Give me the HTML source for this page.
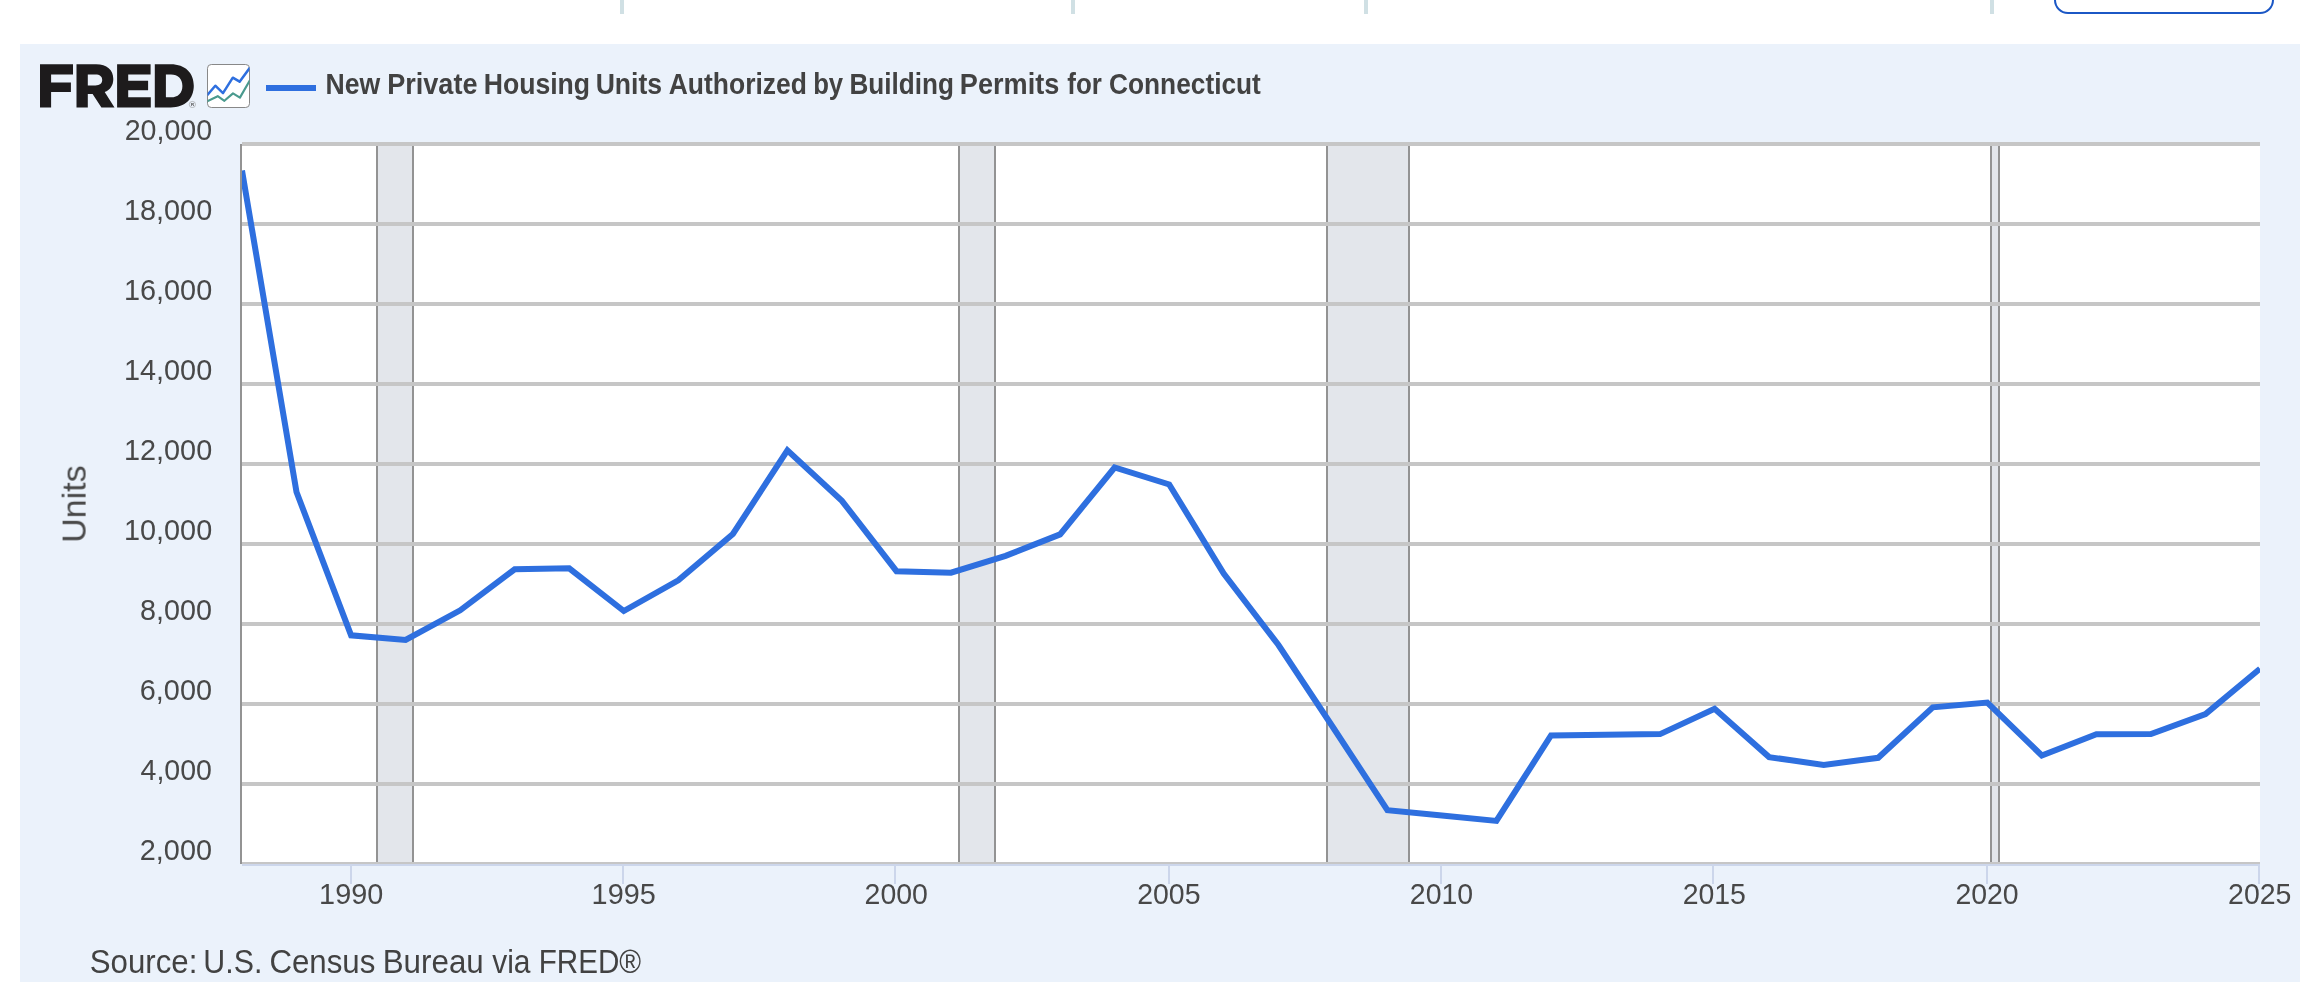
<!DOCTYPE html>
<html lang="en"><head><meta charset="utf-8"><title>FRED - New Private Housing Units Authorized by Building Permits for Connecticut</title>
<style>
html,body{margin:0;padding:0;background:#fff;}
body{width:2306px;height:982px;overflow:hidden;font-family:"Liberation Sans",sans-serif;}
svg{display:block;position:absolute;left:0;top:0;}
text{font-family:"Liberation Sans",sans-serif;fill:#424242;}
.tg{opacity:0.999;}
.os{fill:#484848;}
.r{shape-rendering:crispEdges;}
</style></head><body>
<svg width="2306" height="982" viewBox="0 0 2306 982">
<rect width="2306" height="982" fill="#ffffff"/>

<g class="r" fill="#d0e0e4">
<rect x="620" y="0" width="4" height="14"/>
<rect x="1071" y="0" width="4" height="14"/>
<rect x="1364" y="0" width="4" height="14"/>
<rect x="1990" y="0" width="4" height="14"/>
</g>
<rect x="2055" y="-47" width="218" height="60" rx="13" ry="13" fill="#ffffff" stroke="#1b57c5" stroke-width="2"/>
<rect class="r" x="20" y="44" width="2280" height="938" fill="#ebf2fb"/>
<rect class="r" x="242" y="144" width="2018" height="720" fill="#ffffff"/>
<g class="r"><rect x="376" y="144" width="38" height="720" fill="#939393"/><rect x="378" y="144" width="34" height="720" fill="#e3e6eb"/></g>
<g class="r"><rect x="958" y="144" width="38" height="720" fill="#939393"/><rect x="960" y="144" width="34" height="720" fill="#e3e6eb"/></g>
<g class="r"><rect x="1326" y="144" width="84" height="720" fill="#939393"/><rect x="1328" y="144" width="80" height="720" fill="#e3e6eb"/></g>
<g class="r"><rect x="1990" y="144" width="10" height="720" fill="#939393"/><rect x="1992" y="144" width="6" height="720" fill="#e3e6eb"/></g>
<g class="r" fill="#c6c6c6">
<rect x="242" y="142" width="2018" height="4"/>
<rect x="242" y="222" width="2018" height="4"/>
<rect x="242" y="302" width="2018" height="4"/>
<rect x="242" y="382" width="2018" height="4"/>
<rect x="242" y="462" width="2018" height="4"/>
<rect x="242" y="542" width="2018" height="4"/>
<rect x="242" y="622" width="2018" height="4"/>
<rect x="242" y="702" width="2018" height="4"/>
<rect x="242" y="782" width="2018" height="4"/>
<rect x="242" y="862" width="2018" height="4"/>
</g>
<rect class="r" x="242" y="864" width="2018" height="2" fill="#ccd6eb"/>
<rect class="r" x="240" y="144" width="2" height="720" fill="#939393"/>
<g class="r" fill="#ccd6eb">
<rect x="350" y="866" width="2" height="18"/>
<rect x="622" y="866" width="2" height="18"/>
<rect x="894" y="866" width="2" height="18"/>
<rect x="1168" y="866" width="2" height="18"/>
<rect x="1440" y="866" width="2" height="18"/>
<rect x="1712" y="866" width="2" height="18"/>
<rect x="1986" y="866" width="2" height="18"/>
<rect x="2258" y="866" width="2" height="18"/>
</g>
<clipPath id="pc"><rect x="242" y="124" width="2018" height="740"/></clipPath>
<polyline clip-path="url(#pc)" points="242.0,170.5 296.5,492.0 351.1,635.3 405.6,639.9 460.2,610.3 514.7,569.3 569.2,568.3 623.8,611.0 678.3,580.4 732.9,534.0 787.4,450.4 841.9,500.8 896.5,571.2 951.0,572.7 1005.6,555.9 1060.1,534.4 1114.6,467.5 1169.2,484.5 1223.7,573.5 1278.3,644.8 1332.8,727.0 1387.4,810.2 1441.9,815.6 1496.4,820.9 1551.0,735.5 1605.5,734.8 1660.1,734.1 1714.6,708.8 1769.1,757.1 1823.7,764.9 1878.2,757.8 1932.8,707.3 1987.3,702.6 2041.8,755.5 2096.4,734.3 2150.9,734.0 2205.5,714.1 2260.0,668.7" fill="none" stroke="#2e6fdf" stroke-width="6" stroke-linejoin="miter" stroke-linecap="butt"/>
<rect class="r" x="266" y="85" width="50" height="6" fill="#2e6fdf"/>
<g class="tg">
<text x="325.4" y="94" font-size="28.6" font-weight="bold" textLength="54.77" lengthAdjust="spacingAndGlyphs">New</text>
<text x="387.17" y="94" font-size="28.6" font-weight="bold" textLength="90.3" lengthAdjust="spacingAndGlyphs">Private</text>
<text x="483.7" y="94" font-size="28.6" font-weight="bold" textLength="106.39" lengthAdjust="spacingAndGlyphs">Housing</text>
<text x="595.64" y="94" font-size="28.6" font-weight="bold" textLength="66.45" lengthAdjust="spacingAndGlyphs">Units</text>
<text x="668.69" y="94" font-size="28.6" font-weight="bold" textLength="138.26" lengthAdjust="spacingAndGlyphs">Authorized</text>
<text x="813.2" y="94" font-size="28.6" font-weight="bold" textLength="29.97" lengthAdjust="spacingAndGlyphs">by</text>
<text x="849.43" y="94" font-size="28.6" font-weight="bold" textLength="104.51" lengthAdjust="spacingAndGlyphs">Building</text>
<text x="959.86" y="94" font-size="28.6" font-weight="bold" textLength="99.42" lengthAdjust="spacingAndGlyphs">Permits</text>
<text x="1067.34" y="94" font-size="28.6" font-weight="bold" textLength="34.56" lengthAdjust="spacingAndGlyphs">for</text>
<text x="1109.03" y="94" font-size="28.6" font-weight="bold" textLength="151.84" lengthAdjust="spacingAndGlyphs">Connecticut</text>
<text x="89.74" y="972.6" font-size="32.4" textLength="107.62" lengthAdjust="spacingAndGlyphs">Source:</text>
<text x="203.33" y="972.6" font-size="32.4" textLength="59.0" lengthAdjust="spacingAndGlyphs">U.S.</text>
<text x="269.39" y="972.6" font-size="32.4" textLength="105.93" lengthAdjust="spacingAndGlyphs">Census</text>
<text x="382.71" y="972.6" font-size="32.4" textLength="101.03" lengthAdjust="spacingAndGlyphs">Bureau</text>
<text x="492.17" y="972.6" font-size="32.4" textLength="38.35" lengthAdjust="spacingAndGlyphs">via</text>
<text x="538.75" y="972.6" font-size="32.4" textLength="102.45" lengthAdjust="spacingAndGlyphs">FRED®</text>
<text x="124.72" y="140" font-size="29.5" class="os" textLength="87.46" lengthAdjust="spacingAndGlyphs">20,000</text>
<text x="123.96" y="220" font-size="29.5" class="os" textLength="88.23" lengthAdjust="spacingAndGlyphs">18,000</text>
<text x="123.96" y="300" font-size="29.5" class="os" textLength="88.23" lengthAdjust="spacingAndGlyphs">16,000</text>
<text x="123.96" y="380" font-size="29.5" class="os" textLength="88.23" lengthAdjust="spacingAndGlyphs">14,000</text>
<text x="123.96" y="460" font-size="29.5" class="os" textLength="88.23" lengthAdjust="spacingAndGlyphs">12,000</text>
<text x="123.96" y="540" font-size="29.5" class="os" textLength="88.23" lengthAdjust="spacingAndGlyphs">10,000</text>
<text x="140.06" y="620" font-size="29.5" class="os" textLength="71.9" lengthAdjust="spacingAndGlyphs">8,000</text>
<text x="139.81" y="700" font-size="29.5" class="os" textLength="72.16" lengthAdjust="spacingAndGlyphs">6,000</text>
<text x="140.56" y="780" font-size="29.5" class="os" textLength="71.39" lengthAdjust="spacingAndGlyphs">4,000</text>
<text x="139.81" y="860" font-size="29.5" class="os" textLength="72.16" lengthAdjust="spacingAndGlyphs">2,000</text>
<text x="319.11" y="904" font-size="29.5" class="os" textLength="64.09" lengthAdjust="spacingAndGlyphs">1990</text>
<text x="591.61" y="904" font-size="29.5" class="os" textLength="64.09" lengthAdjust="spacingAndGlyphs">1995</text>
<text x="864.58" y="904" font-size="29.5" class="os" textLength="63.31" lengthAdjust="spacingAndGlyphs">2000</text>
<text x="1137.23" y="904" font-size="29.5" class="os" textLength="63.31" lengthAdjust="spacingAndGlyphs">2005</text>
<text x="1409.83" y="904" font-size="29.5" class="os" textLength="63.31" lengthAdjust="spacingAndGlyphs">2010</text>
<text x="1682.63" y="904" font-size="29.5" class="os" textLength="63.31" lengthAdjust="spacingAndGlyphs">2015</text>
<text x="1955.38" y="904" font-size="29.5" class="os" textLength="63.31" lengthAdjust="spacingAndGlyphs">2020</text>
<text x="2228.08" y="904" font-size="29.5" class="os" textLength="63.31" lengthAdjust="spacingAndGlyphs">2025</text>
<text transform="translate(85.6,542.8) rotate(-90)" x="0" y="0" font-size="34" class="os" textLength="77.4" lengthAdjust="spacingAndGlyphs">Units</text>
</g>
<g fill="#1d1b1c" fill-rule="evenodd">
<path d="M40,64.2H73V74.5H51.1V82.6H70.9V91.9H51.1V107.5H40Z"/>
<path d="M76.5,64.2H96.2C106.8,64.2 113.3,69.8 113.3,78.9C113.3,85.3 110.2,89.7 104.7,92.1L114.5,107.5H101.4L92.6,94H87.8V107.5H76.5ZM87.8,74.5V85.4H95.4C99.8,85.4 102.2,83.4 102.2,80C102.2,76.4 99.8,74.5 95.4,74.5Z"/>
<path d="M117.1,64.2H150.6V74.5H128.2V80.8H148.1V90.2H128.2V97.2H150.8V107.5H117.1Z"/>
<path d="M154.8,64.2H170.8C185.2,64.2 193.8,72.9 193.8,85.8C193.8,98.6 185.2,107.5 170.8,107.5H154.8ZM165.9,74.5V97.3H171C178,97.3 182.4,92.9 182.4,85.9C182.4,78.9 178,74.5 171,74.5Z"/>
</g>
<circle cx="192.4" cy="104.5" r="3.1" fill="none" stroke="#7a7a7a" stroke-width="0.45"/>
<text x="191" y="106.1" font-size="4.2" font-weight="bold" style="fill:#444">R</text>
<clipPath id="ic"><rect x="207.5" y="64.5" width="42" height="43" rx="3.5"/></clipPath>
<rect x="207.5" y="64.5" width="42" height="43" rx="3.8" ry="3.8" fill="#ffffff" stroke="#888888" stroke-width="1"/>
<g clip-path="url(#ic)" fill="none" stroke-linejoin="round">
<polyline points="207.2,95.1 215.3,85.7 223,93.1 232.8,77.7 239.6,81.7 250,67.6" stroke="#2e6fdf" stroke-width="2.5"/>
<polyline points="207.2,101.4 217.7,96.2 224.4,100.8 233,93.4 239.9,97.6 250.2,79.8" stroke="#4a9a8e" stroke-width="2.15"/>
</g>
</svg></body></html>
